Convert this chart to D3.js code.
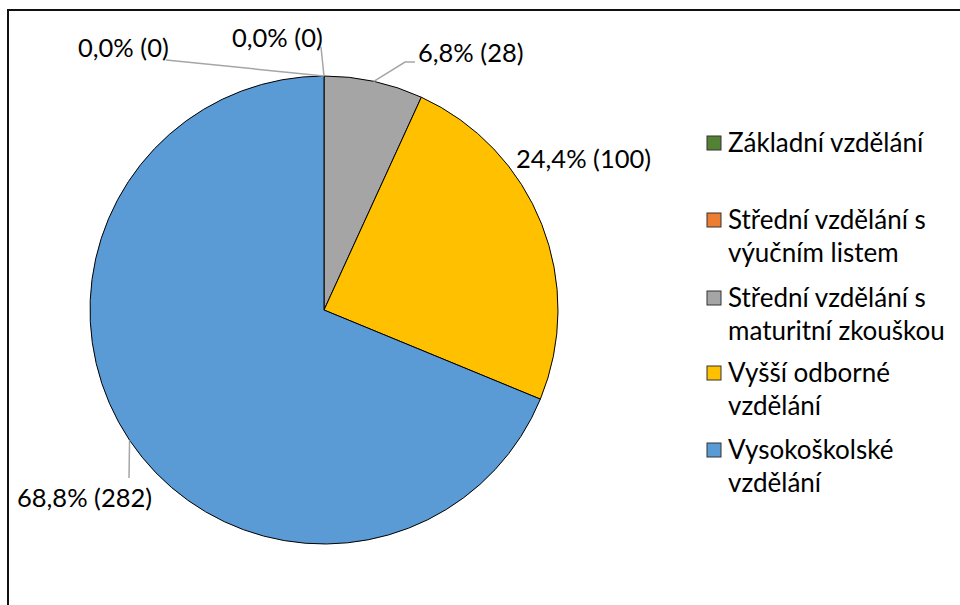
<!DOCTYPE html>
<html lang="cs">
<head>
    <meta charset="UTF-8">
    <title>Vzdělání</title>
    <script src="https://d3js.org/d3.v7.min.js"></script>
    <style>
        body { margin: 0; background: #fff; font-family: Lato, "Open Sans", sans-serif; }
        .lbl { font-size: 25.5px; fill: #000; }
        .leg { font-size: 26px; fill: #000; }
    </style>
</head>
<body>
    <svg width="960" height="605"></svg>
    <script>
        // data
        const categories = [
            "Základní vzdělání",
            "Střední vzdělání s výučním listem",
            "Střední vzdělání s maturitní zkouškou",
            "Vyšší odborné vzdělání",
            "Vysokoškolské vzdělání"
        ];
        const legendLines = [
            ["Základní vzdělání"],
            ["Střední vzdělání s", "výučním listem"],
            ["Střední vzdělání s", "maturitní zkouškou"],
            ["Vyšší odborné", "vzdělání"],
            ["Vysokoškolské", "vzdělání"]
        ];
        const counts = [0, 0, 28, 100, 282];
        const colors = ["#548235", "#ED7D31", "#A5A5A5", "#FFC000", "#5B9BD5"];

        // placement of the data labels, relative to the pie centre
        const labelPos = [
            { x: -246, y: -253, lead: [[-158, -250]] },
            { x: -92,  y: -263, lead: [[-3, -263]] },
            { x: 94,   y: -248, lead: [[81, -248], [91, -248]] },
            { x: 192,  y: -142, lead: null },
            { x: -307, y: 197,  lead: [[-195, 168]] }
        ];

        const svg = d3.select("svg");
        const cx = 324, cy = 310, r = 234;

        // chart frame
        svg.append("rect")
            .attr("x", 8).attr("y", 10)
            .attr("width", 980).attr("height", 620)
            .attr("fill", "none")
            .attr("stroke", "#111")
            .attr("stroke-width", 2);

        const data = categories.map((c, i) => ({ name: c, value: counts[i], i: i }));
        const total = d3.sum(counts);

        const pie = d3.pie().sort(null).value(d => d.value);
        const arcs = pie(data);
        const arc = d3.arc().innerRadius(0).outerRadius(r);

        const g = svg.append("g").attr("transform", `translate(${cx},${cy})`);

        g.selectAll("path.slice")
            .data(arcs.filter(d => d.value > 0))
            .enter().append("path")
            .attr("class", "slice")
            .attr("d", arc)
            .attr("fill", d => colors[d.data.i])
            .attr("stroke", "#000")
            .attr("stroke-width", 1);

        // leader lines start on the rim at the slice mid angle
        const fmt = v => d3.format(".1f")(v).replace(".", ",");
        arcs.forEach((a, i) => {
            const p = labelPos[i];
            const mid = (a.startAngle + a.endAngle) / 2;
            const start = [r * Math.sin(mid), -r * Math.cos(mid)];
            if (p.lead) {
                g.append("path")
                    .attr("d", d3.line()([start, ...p.lead]))
                    .attr("fill", "none")
                    .attr("stroke", "#A6A6A6")
                    .attr("stroke-width", 1.5);
            }
            g.append("text")
                .attr("class", "lbl")
                .attr("x", p.x).attr("y", p.y)
                .text(`${fmt(a.value / total * 100)}% (${a.value})`);
        });

        // legend
        const legStarts = [143, 220, 298, 373, 450];
        const leg = svg.append("g");
        legendLines.forEach((lines, i) => {
            const y0 = legStarts[i];
            leg.append("rect")
                .attr("x", 707).attr("y", y0 - 7)
                .attr("width", 14).attr("height", 14)
                .attr("fill", colors[i])
                .attr("stroke", "#333")
                .attr("stroke-width", 1);
            const t = leg.append("text").attr("class", "leg");
            lines.forEach((ln, k) => {
                t.append("tspan")
                    .attr("x", 728)
                    .attr("y", y0 + 9 + k * 33)
                    .text(ln);
            });
        });
    </script>
</body>
</html>
